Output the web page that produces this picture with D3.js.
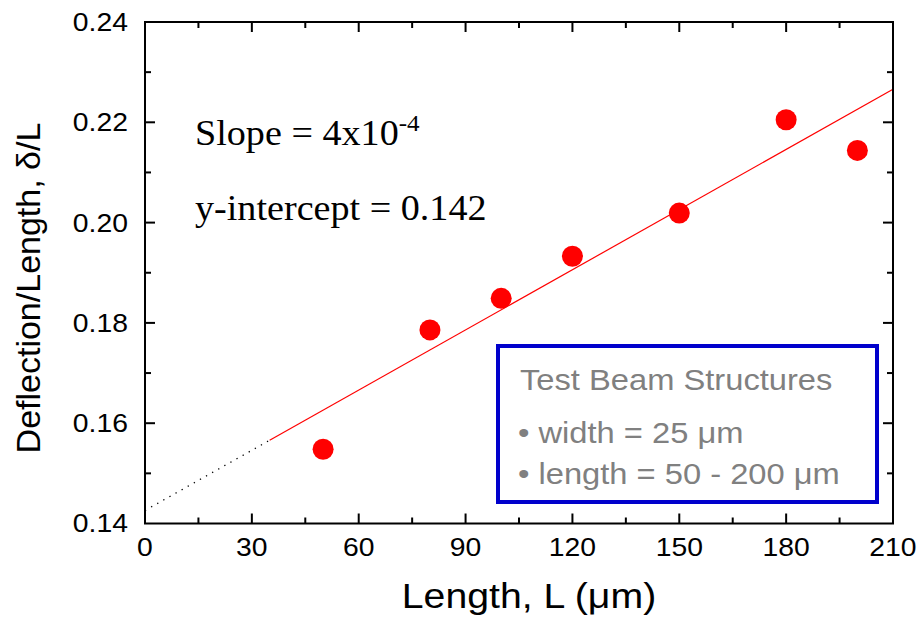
<!DOCTYPE html>
<html>
<head>
<meta charset="utf-8">
<script src="https://cdn.jsdelivr.net/npm/d3@7"></script>
<style>
  body { margin: 0; background: #fff; }
  svg { display: block; }
</style>
</head>
<body>
<svg id="chart" width="918" height="618"></svg>
<script>
// measured beam data
const lengths = [50, 80, 100, 120, 150, 180, 200];
const ratios = [0.1548, 0.1786, 0.1849, 0.1933, 0.2019, 0.2205, 0.2144];

// linear fit shown on the plot
const fitSlope = 0.000400;
const fitIntercept = 0.1426;
const fitSolidFrom = 35;

const xTicks = [0, 30, 60, 90, 120, 150, 180, 210];
const xMinor = [15, 45, 75, 105, 135, 165, 195];
const yTicks = [0.14, 0.16, 0.18, 0.20, 0.22, 0.24];
const yMinor = [0.15, 0.17, 0.19, 0.21, 0.23];

const legendLines = ['Test Beam Structures', '\u2022 width = 25 \u03bcm', '\u2022 length = 50 - 200 \u03bcm'];

const svg = d3.select('#chart');
const sans = 'Liberation Sans, Arial, sans-serif';
const serif = 'Liberation Serif, Times New Roman, serif';

const pLeft = 145, pRight = 893, pTop = 22, pBottom = 523.5;
const wide = 1.09; // the original's text is a bit wider than the font's metrics

const x = d3.scaleLinear().domain([0, 210]).range([pLeft, pRight]);
const y = d3.scaleLinear().domain([0.14, 0.24]).range([pBottom, pTop]);

// widen a text horizontally around its anchor x
function stretch(sel, ax) {
  sel.attr('transform', function(d, i) {
    const a = typeof ax === 'function' ? ax(d, i) : ax;
    return `translate(${a},0) scale(${wide},1) translate(${-a},0)`;
  });
}

// fit line: dotted extrapolation then solid red
const fitY = v => fitIntercept + fitSlope * v;
svg.append('line')
  .attr('x1', x(0)).attr('y1', y(fitY(0)))
  .attr('x2', x(fitSolidFrom)).attr('y2', y(fitY(fitSolidFrom)))
  .attr('stroke', '#000').attr('stroke-width', 1.3)
  .attr('stroke-dasharray', '1.3,5.7');
svg.append('line')
  .attr('x1', x(fitSolidFrom)).attr('y1', y(fitY(fitSolidFrom)))
  .attr('x2', x(210)).attr('y2', y(fitY(210)))
  .attr('stroke', '#ff0000').attr('stroke-width', 1.2);

// legend box
const lg = svg.append('g');
lg.append('rect')
  .attr('x', 498).attr('y', 346).attr('width', 379).attr('height', 156)
  .attr('fill', '#fff').attr('stroke', '#0000cc').attr('stroke-width', 4);
lg.selectAll('text').data(legendLines).enter().append('text')
  .attr('x', (d, i) => i === 0 ? 520 : 518)
  .attr('y', (d, i) => [390, 443, 484][i])
  .attr('font-family', sans).attr('font-size', 30)
  .attr('fill', '#808080')
  .text(d => d)
  .call(stretch, (d, i) => i === 0 ? 520 : 518);

// points
svg.append('g').selectAll('circle')
  .data(lengths.map((d, i) => [d, ratios[i]]))
  .enter().append('circle')
  .attr('cx', d => x(d[0]))
  .attr('cy', d => y(d[1]))
  .attr('r', 10.5)
  .attr('fill', '#ff0000');

// axes frame with inward ticks
const axes = svg.append('g').attr('stroke', '#000').attr('stroke-width', 2);
axes.append('rect')
  .attr('x', pLeft).attr('y', pTop).attr('width', pRight - pLeft).attr('height', pBottom - pTop)
  .attr('fill', 'none');

function tickSet(vals, len) {
  vals.forEach(v => {
    axes.append('line').attr('x1', x(v)).attr('x2', x(v)).attr('y1', pBottom).attr('y2', pBottom - len);
    axes.append('line').attr('x1', x(v)).attr('x2', x(v)).attr('y1', pTop).attr('y2', pTop + len);
  });
}
function tickSetY(vals, len) {
  vals.forEach(v => {
    axes.append('line').attr('y1', y(v)).attr('y2', y(v)).attr('x1', pLeft).attr('x2', pLeft + len);
    axes.append('line').attr('y1', y(v)).attr('y2', y(v)).attr('x1', pRight).attr('x2', pRight - len);
  });
}
tickSet(xTicks.slice(1, -1), 10);
tickSet(xMinor, 6);
tickSetY(yTicks.slice(1, -1), 10);
tickSetY(yMinor, 6);

// tick labels
svg.append('g').selectAll('text').data(xTicks).enter().append('text')
  .attr('x', d => x(d)).attr('y', 556)
  .attr('text-anchor', 'middle')
  .attr('font-family', sans).attr('font-size', 26)
  .text(d => d)
  .call(stretch, d => x(d));
svg.append('g').selectAll('text').data(yTicks).enter().append('text')
  .attr('x', 128).attr('y', d => y(d) + 9)
  .attr('text-anchor', 'end')
  .attr('font-family', sans).attr('font-size', 26)
  .text(d => d3.format('.2f')(d))
  .call(stretch, 128);

// axis titles
svg.append('text')
  .attr('x', 529).attr('y', 608)
  .attr('text-anchor', 'middle')
  .attr('font-family', sans).attr('font-size', 36)
  .text('Length, L (\u03bcm)')
  .call(stretch, 529);
svg.append('text')
  .attr('transform', 'translate(40,288) rotate(-90)')
  .attr('text-anchor', 'middle')
  .attr('font-family', sans).attr('font-size', 34)
  .text('Deflection/Length, \u03b4/L');

// fit annotation
const slopeText = svg.append('text')
  .attr('x', 195).attr('y', 145)
  .attr('font-family', serif).attr('font-size', 35)
  .call(stretch, 195);
slopeText.append('tspan').text('Slope = 4x10');
slopeText.append('tspan').attr('dy', -14).attr('font-size', 23).text('-4');
svg.append('text')
  .attr('x', 195).attr('y', 220)
  .attr('font-family', serif).attr('font-size', 35)
  .text('y-intercept = 0.142')
  .call(stretch, 195);
</script>
</body>
</html>
